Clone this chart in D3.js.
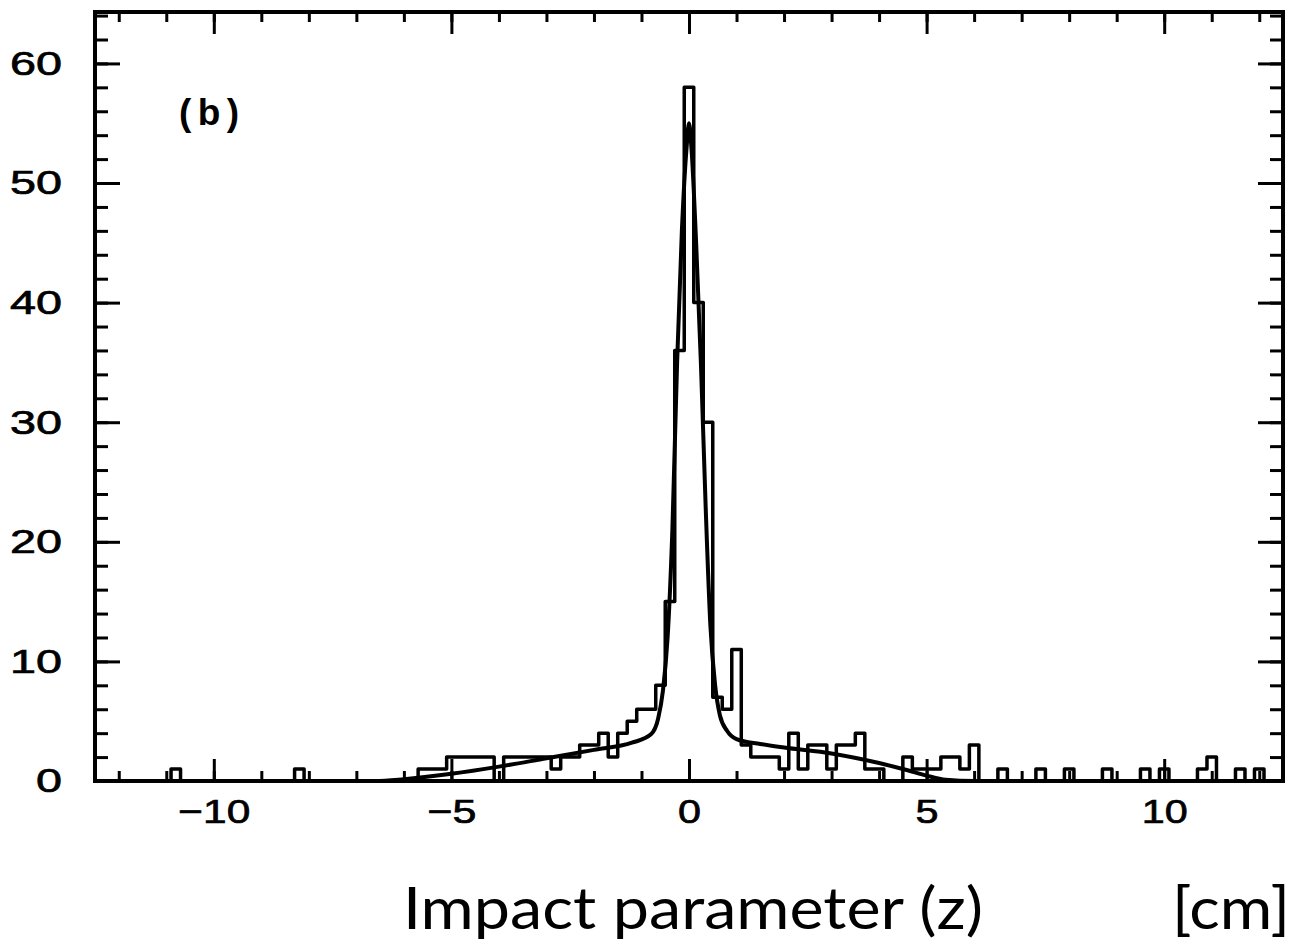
<!DOCTYPE html>
<html>
<head>
<meta charset="utf-8">
<script src="https://cdn.jsdelivr.net/npm/d3@7"></script>
<style>
  body { margin: 0; background: #fff; }
  svg { display: block; }
</style>
</head>
<body>
<div id="chart-area"></div>
<script>
// histogram: 125 bins of 0.2 cm from -12.5 to 12.5 (bin centres -12.4 ... 12.4)
var binLow = -12.5
var binWidth = 0.2
var counts = [
  0, 0, 0, 0, 0, 0, 0, 0, 1, 0,   // -12.4 .. -10.6
  0, 0, 0, 0, 0, 0, 0, 0, 0, 0,   // -10.4 .. -8.6
  0, 1, 0, 0, 0, 0, 0, 0, 0, 0,   // -8.4 .. -6.6
  0, 0, 0, 0, 1, 1, 1, 2, 2, 2,   // -6.4 .. -4.6
  2, 2, 0, 2, 2, 2, 2, 2, 1, 2,   // -4.4 .. -2.6
  2, 3, 3, 4, 2, 4, 5, 6, 6, 8,   // -2.4 .. -0.6
  15, 36, 58, 40, 30, 7, 6, 11, 3, 2,  // -0.4 .. 1.4
  2, 2, 1, 4, 1, 3, 3, 1, 3, 3,   // 1.6 .. 3.4
  4, 1, 1, 0, 0, 2, 1, 1, 1, 2,   // 3.6 .. 5.4
  2, 1, 3, 0, 0, 1, 0, 0, 0, 1,   // 5.6 .. 7.4
  0, 0, 1, 0, 0, 0, 1, 0, 0, 0,   // 7.6 .. 9.4
  1, 0, 1, 0, 0, 0, 1, 2, 0, 0,   // 9.6 .. 11.4
  1, 0, 1, 0, 0                   // 11.6 .. 12.4
]

// fitted curve
var fitX = [-12.5, -6.6, -6, -5, -4, -3, -2, -1.2, -0.8, -0.65, -0.55, -0.45, -0.35, -0.25, -0.15, -0.05, 0,
  0.05, 0.15, 0.25, 0.35, 0.45, 0.55, 0.65, 0.8, 1.0, 1.5, 2, 3, 4, 4.6, 5, 5.4, 6, 12.5]
var fitY = [0, 0, 0.15, 0.6, 1.2, 1.9, 2.6, 3.2, 3.9, 5.2, 7.5, 12, 21, 35, 46, 53, 55,
  53, 45, 35, 23, 13, 8, 5.5, 4.2, 3.5, 3.1, 2.8, 2.3, 1.5, 0.9, 0.45, 0.1, 0, 0]

var xMajor = [-10, -5, 0, 5, 10]
var xMinor = d3.range(-12, 13, 1)
var yMajor = [0, 10, 20, 30, 40, 50, 60]
var yMinor = d3.range(0, 65, 2)

var W = 1308, H = 942
var pLeft = 95, pRight = 1283, pTop = 12, pBottom = 781

var svg = d3.select("#chart-area").append("svg")
  .attr("width", W)
  .attr("height", H)

var x = d3.scaleLinear().domain([-12.5, 12.5]).range([pLeft, pRight])
var y = d3.scaleLinear().domain([0, 64.3]).range([pBottom, pTop])

var numFont = "'Liberation Sans', Arial, sans-serif"

function labelWidth(s) {
  var w = 0
  for (var c of s) w += (c === "\u2212" ? 26 : 23)
  return w
}

// minor ticks (all four sides, pointing inwards)
svg.append("g").attr("transform", "translate(0," + pBottom + ")")
  .call(d3.axisBottom(x).tickValues(xMinor).tickSize(-10).tickFormat(""))
svg.append("g").attr("transform", "translate(0," + pTop + ")")
  .call(d3.axisTop(x).tickValues(xMinor).tickSize(-10).tickFormat(""))
svg.append("g").attr("transform", "translate(" + pLeft + ",0)")
  .call(d3.axisLeft(y).tickValues(yMinor).tickSize(-13).tickFormat(""))
svg.append("g").attr("transform", "translate(" + pRight + ",0)")
  .call(d3.axisRight(y).tickValues(yMinor).tickSize(-13).tickFormat(""))

// major ticks
svg.append("g").attr("transform", "translate(0," + pTop + ")")
  .call(d3.axisTop(x).tickValues(xMajor).tickSize(-22).tickFormat(""))
svg.append("g").attr("transform", "translate(" + pRight + ",0)")
  .call(d3.axisRight(y).tickValues(yMajor).tickSize(-25).tickFormat(""))

var xAxis = svg.append("g").attr("transform", "translate(0," + pBottom + ")")
  .call(d3.axisBottom(x).tickValues(xMajor).tickSize(-22).tickPadding(18).tickFormat(d3.format("d")))
var yAxis = svg.append("g").attr("transform", "translate(" + pLeft + ",0)")
  .call(d3.axisLeft(y).tickValues(yMajor).tickSize(-25).tickPadding(33).tickFormat(d3.format("d")))

svg.selectAll(".domain").remove()
svg.selectAll(".tick line").attr("stroke", "#000").attr("stroke-width", 3)

xAxis.selectAll("text")
  .attr("font-family", numFont).attr("font-size", 34).attr("fill", "#000")
  .attr("stroke", "#000").attr("stroke-width", 0.7)
  .attr("textLength", function () { return labelWidth(this.textContent) })
  .attr("lengthAdjust", "spacingAndGlyphs")
yAxis.selectAll("text")
  .attr("font-family", numFont).attr("font-size", 34).attr("fill", "#000")
  .attr("stroke", "#000").attr("stroke-width", 0.7)
  .attr("textLength", function () { return 26 * this.textContent.length })
  .attr("lengthAdjust", "spacingAndGlyphs")

// histogram outline
var steps = counts.map(function (c, i) { return [binLow + i * binWidth, c] })
steps.unshift([binLow, 0])
steps.push([binLow + counts.length * binWidth, counts[counts.length - 1]])
steps.push([binLow + counts.length * binWidth, 0])

svg.append("path")
  .datum(steps)
  .attr("fill", "none")
  .attr("stroke", "#000")
  .attr("stroke-width", 3.5)
  .attr("stroke-linejoin", "round")
  .attr("d", d3.line()
    .x(function (d) { return x(d[0]) })
    .y(function (d) { return y(d[1]) })
    .curve(d3.curveStepAfter))

// fit curve
var fit = fitX.map(function (v, i) { return [v, fitY[i]] })
svg.append("path")
  .datum(fit)
  .attr("fill", "none")
  .attr("stroke", "#000")
  .attr("stroke-width", 4)
  .attr("d", d3.line()
    .x(function (d) { return x(d[0]) })
    .y(function (d) { return y(d[1]) })
    .curve(d3.curveMonotoneX))

// frame
svg.append("rect")
  .attr("x", pLeft).attr("y", pTop)
  .attr("width", pRight - pLeft).attr("height", pBottom - pTop)
  .attr("fill", "none").attr("stroke", "#000").attr("stroke-width", 4)

// panel label
svg.append("text")
  .attr("x", 179).attr("y", 125)
  .attr("font-family", numFont).attr("font-size", 37).attr("font-weight", "bold")
  .attr("textLength", 60).attr("lengthAdjust", "spacing")
  .text("(b)")

// axis title
svg.append("text")
  .attr("x", 403).attr("y", 929)
  .attr("font-family", "Lato, 'DejaVu Sans', sans-serif").attr("font-size", 58)
  .attr("textLength", 580).attr("lengthAdjust", "spacingAndGlyphs")
  .text("Impact parameter (z)")
svg.append("text")
  .attr("x", 1172).attr("y", 929)
  .attr("font-family", "Lato, 'DejaVu Sans', sans-serif").attr("font-size", 58)
  .attr("textLength", 118).attr("lengthAdjust", "spacingAndGlyphs")
  .text("[cm]")
</script>
</body>
</html>
